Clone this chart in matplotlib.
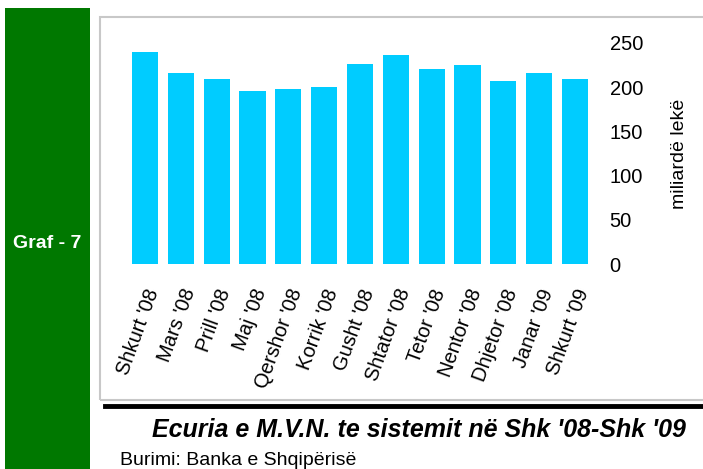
import matplotlib.pyplot as plt
from matplotlib.patches import Rectangle
from matplotlib.lines import Line2D

# data (miliardë lekë)
months = ["Shkurt '08", "Mars '08", "Prill '08", "Maj '08", "Qershor '08", "Korrik '08",
          "Gusht '08", "Shtator '08", "Tetor '08", "Nentor '08", "Dhjetor '08",
          "Janar '09", "Shkurt '09"]
values = [240, 216, 209, 196, 198, 200, 226, 236, 221, 225, 207, 216, 209]
yticks = [0, 50, 100, 150, 200, 250]

plt.rcParams['font.family'] = ['Liberation Sans', 'DejaVu Sans']

fig = plt.figure(figsize=(7.03, 4.69), dpi=100)

# green side panel
fig.patches.append(Rectangle((5 / 703, 0), 85 / 703, 1 - 8 / 469, transform=fig.transFigure,
                             facecolor='#007800', edgecolor='none'))
fig.text(47 / 703, 1 - 243 / 469, 'Graf - 7', color='white', fontsize=14,
         fontweight='bold', ha='center', va='center')

# light gray frame round the chart
fig.patches.append(Rectangle((100 / 703, 1 - 400 / 469), 610 / 703, 383 / 469,
                             transform=fig.transFigure, facecolor='none',
                             edgecolor='#c8c8c8', linewidth=1.5))
# black rule under the chart
fig.lines.append(Line2D([105 / 703, 1], [1 - 406 / 469] * 2, transform=fig.transFigure,
                        color='black', linewidth=3.5))

ax = fig.add_axes([127 / 703, 1 - 264 / 469, 466 / 703, 221 / 469])
ax.bar(range(len(months)), values, width=0.73, color='#00ccff')
ax.set_xlim(-0.5, len(months) - 0.5)
ax.set_ylim(0, 250)
ax.set_yticks(yticks)
ax.yaxis.tick_right()
ax.yaxis.set_label_position('right')
ax.tick_params(axis='y', length=0, labelsize=14.5, pad=12)
ax.tick_params(axis='x', length=0, pad=16)
ax.set_xticks(range(len(months)))
ax.set_xticklabels(months, rotation=70, ha='right', rotation_mode='anchor', fontsize=14.5)
ax.set_ylabel('miliardë lekë', fontsize=14, labelpad=20)
for s in ax.spines.values():
    s.set_visible(False)

fig.text(419 / 703, 1 - 430 / 469, "Ecuria e M.V.N. te sistemit në Shk '08-Shk '09",
         fontsize=18, fontweight='bold', fontstyle='italic', ha='center', va='center')
fig.text(120 / 703, 1 - 460 / 469, 'Burimi: Banka e Shqipërisë', fontsize=14,
         ha='left', va='center')

fig.savefig('out.png', dpi=100)
